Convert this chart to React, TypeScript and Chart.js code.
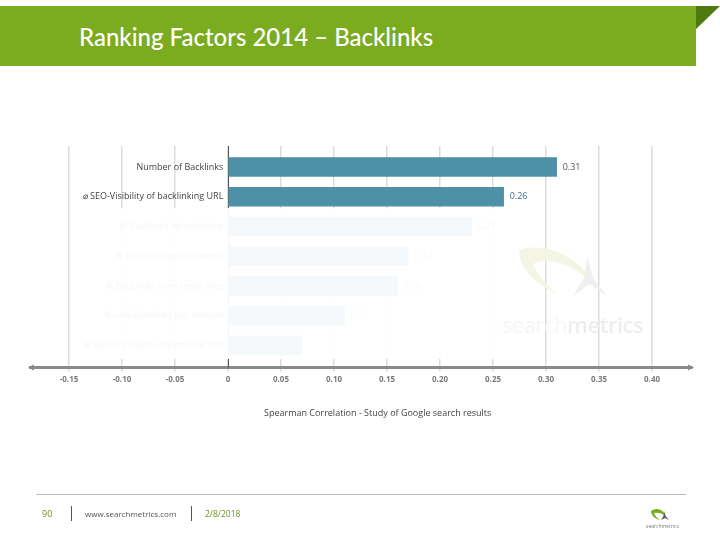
import { useEffect, useRef } from "react";
import { Chart, registerables } from "chart.js";

Chart.register(...registerables);

const categories = [
  "Number of Backlinks",
  "⌀ SEO-Visibility of backlinking URL",
  "% Backlinks rel=nofollow",
  "% Backlinks with keyword",
  "% Backlinks from news sites",
  "% new Backlinks per domain",
  "% Backlinks with stopword in text",
];
const correlations = [0.31, 0.26, 0.23, 0.17, 0.16, 0.11, 0.07];
const valueLabels = ["0.31", "0.26", "0.23", "0.17", "0.16", "0.11", ""];
const xTicks = [-0.15, -0.1, -0.05, 0, 0.05, 0.1, 0.15, 0.2, 0.25, 0.3, 0.35, 0.4];
const xTickLabels = ["-0.15", "-0.10", "-0.05", "0", "0.05", "0.10", "0.15", "0.20", "0.25", "0.30", "0.35", "0.40"];

const FONT = "'Open Sans', sans-serif";

// value labels at the bar ends, arrow tips on the axis
const extras = {
  id: "extras",
  afterDatasetsDraw(chart: any) {
    const { ctx, chartArea } = chart;
    ctx.save();
    ctx.font = `9px ${FONT}`;
    ctx.textBaseline = "middle";
    chart.getDatasetMeta(0).data.forEach((bar: any, i: number) => {
      ctx.fillStyle = i === 1 ? "#3f6f8f" : "#555";
      ctx.fillText(valueLabels[i], bar.x + 6, bar.y);
    });
    ctx.fillStyle = "#888";
    const y = chartArea.bottom;
    [
      [chartArea.left, 4],
      [chartArea.right, -4],
    ].forEach(([x, d]) => {
      ctx.beginPath();
      ctx.moveTo(x - d * 0.5, y);
      ctx.lineTo(x + d, y - 3);
      ctx.lineTo(x + d, y + 3);
      ctx.closePath();
      ctx.fill();
    });
    ctx.restore();
  },
};

const abs = (left: number, top: number, extra: any = {}) => ({
  position: "absolute" as const,
  left,
  top,
  ...extra,
});

const App = () => {
  const chartRef = useRef<HTMLCanvasElement>(null);

  useEffect(() => {
    if (!chartRef.current) return;

    const chart = new Chart(chartRef.current, {
      type: "bar",
      plugins: [extras],
      data: {
        datasets: [
          {
            label: "Spearman Correlation",
            data: correlations.map((v, i) => ({ x: v, y: i })),
            backgroundColor: "#4e91a7",
            barThickness: 19,
          },
        ],
      },
      options: {
        indexAxis: "y",
        animation: false,
        responsive: true,
        maintainAspectRatio: false,
        layout: { padding: { left: 30, right: 28, top: 146, bottom: 151 } },
        plugins: { legend: { display: false }, tooltip: { enabled: false } },
        scales: {
          x: {
            type: "linear",
            min: -0.1868,
            max: 0.4377,
            afterBuildTicks: (scale: any) => {
              scale.ticks = xTicks.map((value) => ({ value }));
            },
            grid: { color: "#dcdcdc", lineWidth: 1.5, tickLength: 4 },
            border: { display: true, color: "#8a8a8a", width: 3 },
            ticks: {
              color: "#7a7a7a",
              font: { family: FONT, size: 8, weight: "bold" },
              padding: 4,
              maxRotation: 0,
              autoSkip: false,
              callback: (_v: any, i: number) => xTickLabels[i],
            },
          },
          y: {
            type: "linear",
            position: { x: 0 },
            reverse: true,
            offset: false,
            min: -0.707,
            max: 6.74,
            afterBuildTicks: (scale: any) => {
              scale.ticks = categories.map((_, value) => ({ value }));
            },
            grid: { display: false, drawTicks: false },
            border: { display: true, color: "#555", width: 1 },
            ticks: {
              color: "#444",
              font: { family: FONT, size: 9 },
              autoSkip: false,
              // nbsp keeps the labels off the axis line, padding has no effect here
              callback: (_v: any, i: number) => categories[i] + "\u00a0\u00a0",
            },
          },
        },
      },
    } as any);

    return () => {
      chart.destroy();
    };
  }, []);

  return (
    <div style={abs(0, 0, { width: 720, height: 540, background: "#fff", overflow: "hidden" })}>
      {/* header */}
      <div style={abs(0, 6, { width: 696, height: 60, background: "#7bab1f" })} />
      <svg style={abs(696, 6)} width={24} height={24}>
        <path d="M0 0H24L0 23Z" fill="#4e7a10" />
      </svg>
      <div
        style={abs(79, 21, {
          color: "#fff",
          font: "500 24px Lato, sans-serif",
          lineHeight: "32px",
          whiteSpace: "nowrap",
        })}
      >
        Ranking Factors 2014 – Backlinks
      </div>

      <div style={abs(0, 0, { width: 720, height: 540 })}>
        <canvas ref={chartRef} />
      </div>

      {/* white veil over the rows still hidden on this slide */}
      <div style={abs(76, 208, { width: 456, height: 151, background: "rgba(255,255,255,0.95)" })} />

      {/* watermark */}
      <svg style={abs(515, 240)} width={100} height={65}>
        <path d="M4 10C28 2 64 14 80 46C60 24 32 16 18 24C22 34 32 46 42 54C20 44 4 28 4 10Z" fill="#f5f5e6" />
        <path d="M72 16L78 38L92 56L74 44L58 56L70 36Z" fill="#efefef" />
      </svg>
      <div
        style={abs(502, 310, {
          font: "22px 'Open Sans', sans-serif",
          lineHeight: "28px",
          letterSpacing: -0.5,
          color: "#eeeeee",
          whiteSpace: "nowrap",
        })}
      >
        <span style={{ color: "#f6f6f6" }}>search</span>
        <span style={{ fontWeight: 600 }}>metrics</span>
      </div>

      {/* axis title */}
      <div style={abs(264, 406, { font: "9px 'Open Sans', sans-serif", lineHeight: "13px", color: "#444", whiteSpace: "nowrap" })}>
        Spearman Correlation - Study of Google search results
      </div>

      {/* footer */}
      <div style={abs(36, 494, { width: 650, height: 1, background: "#bdbdbd" })} />
      <div style={abs(71, 506, { width: 1, height: 15, background: "#555" })} />
      <div style={abs(191, 506, { width: 1, height: 15, background: "#555" })} />
      <div style={abs(42, 508, { font: "9px 'Open Sans', sans-serif", lineHeight: "12px", color: "#6f8f2a" })}>90</div>
      <div style={abs(85, 508, { font: "8px 'Open Sans', sans-serif", lineHeight: "12px", color: "#555", whiteSpace: "nowrap" })}>
        www.searchmetrics.com
      </div>
      <div style={abs(205, 508, { font: "8.5px 'Open Sans', sans-serif", lineHeight: "12px", color: "#6f8f2a" })}>2/8/2018</div>
      <svg style={abs(650, 507)} width={20} height={15}>
        <path d="M1 4C6 0 13 2 16 9C12 6 7 5 4 6C5 9 7 11 10 13C5 12 1 8 1 4Z" fill="#7bab1f" />
        <path d="M14 4L15.5 9L19 13L15 11L11 13L13.5 9Z" fill="#555" />
      </svg>
      <div style={abs(646, 522, { font: "5px 'Open Sans', sans-serif", lineHeight: "8px", color: "#777", whiteSpace: "nowrap" })}>
        searchmetrics
      </div>
    </div>
  );
};

export default App;
